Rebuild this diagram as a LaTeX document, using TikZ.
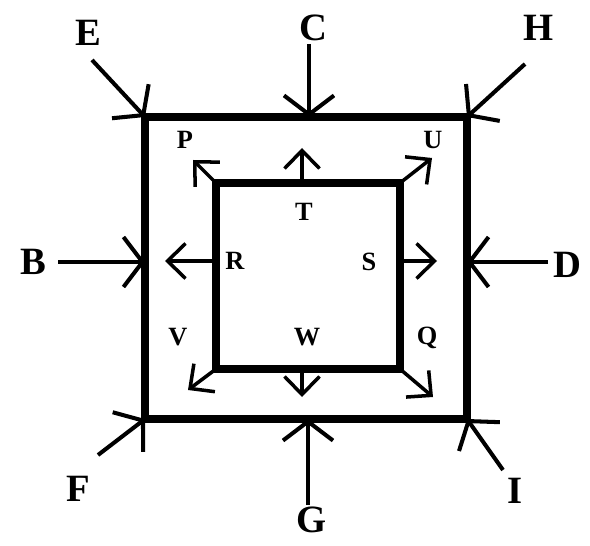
\documentclass[tikz,border=0pt]{standalone}
\usepackage{fontspec}
\setmainfont{Liberation Serif}
\usetikzlibrary{arrows.meta}

\begin{document}
\begin{tikzpicture}[
    x=0.02cm, y=-0.02cm,
    frame/.style={line width=4.4pt, line join=miter},
    inarrow/.style={-{Straight Barb[length=0.38cm, width=1cm]}, line width=2.3pt},
    outarrow/.style={-{Straight Barb[length=0.36cm, width=0.7cm]}, line width=2pt},
    biglbl/.style={font=\fontsize{22}{22}\selectfont\bfseries},
    smalllbl/.style={font=\fontsize{15}{15}\selectfont\bfseries},
  ]
    \useasboundingbox (0,0) rectangle (590,546);

    % Outer square
    \coordinate (oNW) at (145,117);
    \coordinate (oNE) at (467,117);
    \coordinate (oSE) at (467,419);
    \coordinate (oSW) at (145,419);
    \coordinate (oN) at (309,117);
    \coordinate (oS) at (308,419);
    \coordinate (oW) at (145,262);
    \coordinate (oE) at (467,262);
    \draw[frame] (oNW) rectangle (oSE);

    % Inner square
    \coordinate (iNW) at (216,183);
    \coordinate (iNE) at (400,183);
    \coordinate (iSE) at (400,369);
    \coordinate (iSW) at (216,369);
    \coordinate (iN) at (302,183);
    \coordinate (iS) at (302,369);
    \coordinate (iW) at (216,261);
    \coordinate (iE) at (400,261);
    \draw[frame] (iNW) rectangle (iSE);

    % Forces from outside
    \coordinate (eTail) at (92,60);
    \coordinate (cTail) at (309,44);
    \coordinate (hTail) at (525,64);
    \coordinate (bTail) at (58,262);
    \coordinate (dTail) at (548,262);
    \coordinate (fTail) at (98,455);
    \coordinate (gTail) at (308,505);
    \coordinate (iTail) at (503,470);
    \draw[inarrow] (eTail) -- (oNW);
    \draw[inarrow] (cTail) -- (oN);
    \draw[inarrow] (hTail) -- (oNE);
    \draw[inarrow] (bTail) -- (oW);
    \draw[inarrow] (dTail) -- (oE);
    \draw[inarrow] (fTail) -- (oSW);
    \draw[inarrow] (gTail) -- (oS);
    \draw[inarrow] (iTail) -- (oSE);

    \node[biglbl] (lblE) at (88,33) {E};
    \node[biglbl] (lblC) at (313,28) {C};
    \node[biglbl] (lblH) at (539,28) {H};
    \node[biglbl] (lblB) at (33,262) {B};
    \node[biglbl] (lblD) at (567,265) {D};
    \node[biglbl] (lblF) at (78,489) {F};
    \node[biglbl] (lblG) at (312,520) {G};
    \node[biglbl] (lblI) at (515,491) {I};

    % Forces from inside
    \coordinate (pTip) at (193,160);
    \coordinate (tTip) at (302,148);
    \coordinate (uTip) at (432,158);
    \coordinate (rTip) at (165,261);
    \coordinate (sTip) at (437,261);
    \coordinate (vTip) at (188,390);
    \coordinate (wTip) at (302,397);
    \coordinate (qTip) at (433,397);
    \draw[outarrow] (iNW) -- (pTip);
    \draw[outarrow] (iN) -- (tTip);
    \draw[outarrow] (iNE) -- (uTip);
    \draw[outarrow] (iW) -- (rTip);
    \draw[outarrow] (iE) -- (sTip);
    \draw[outarrow] (iSW) -- (vTip);
    \draw[outarrow] (iS) -- (wTip);
    \draw[outarrow] (iSE) -- (qTip);

    \node[smalllbl] (lblP) at (185,140) {P};
    \node[smalllbl] (lblT) at (304,212) {T};
    \node[smalllbl] (lblU) at (433,140) {U};
    \node[smalllbl] (lblR) at (235,261) {R};
    \node[smalllbl] (lblS) at (369,262) {S};
    \node[smalllbl] (lblV) at (178,337) {V};
    \node[smalllbl] (lblW) at (307,337) {W};
    \node[smalllbl] (lblQ) at (427,338) {Q};
\end{tikzpicture}
\end{document}
